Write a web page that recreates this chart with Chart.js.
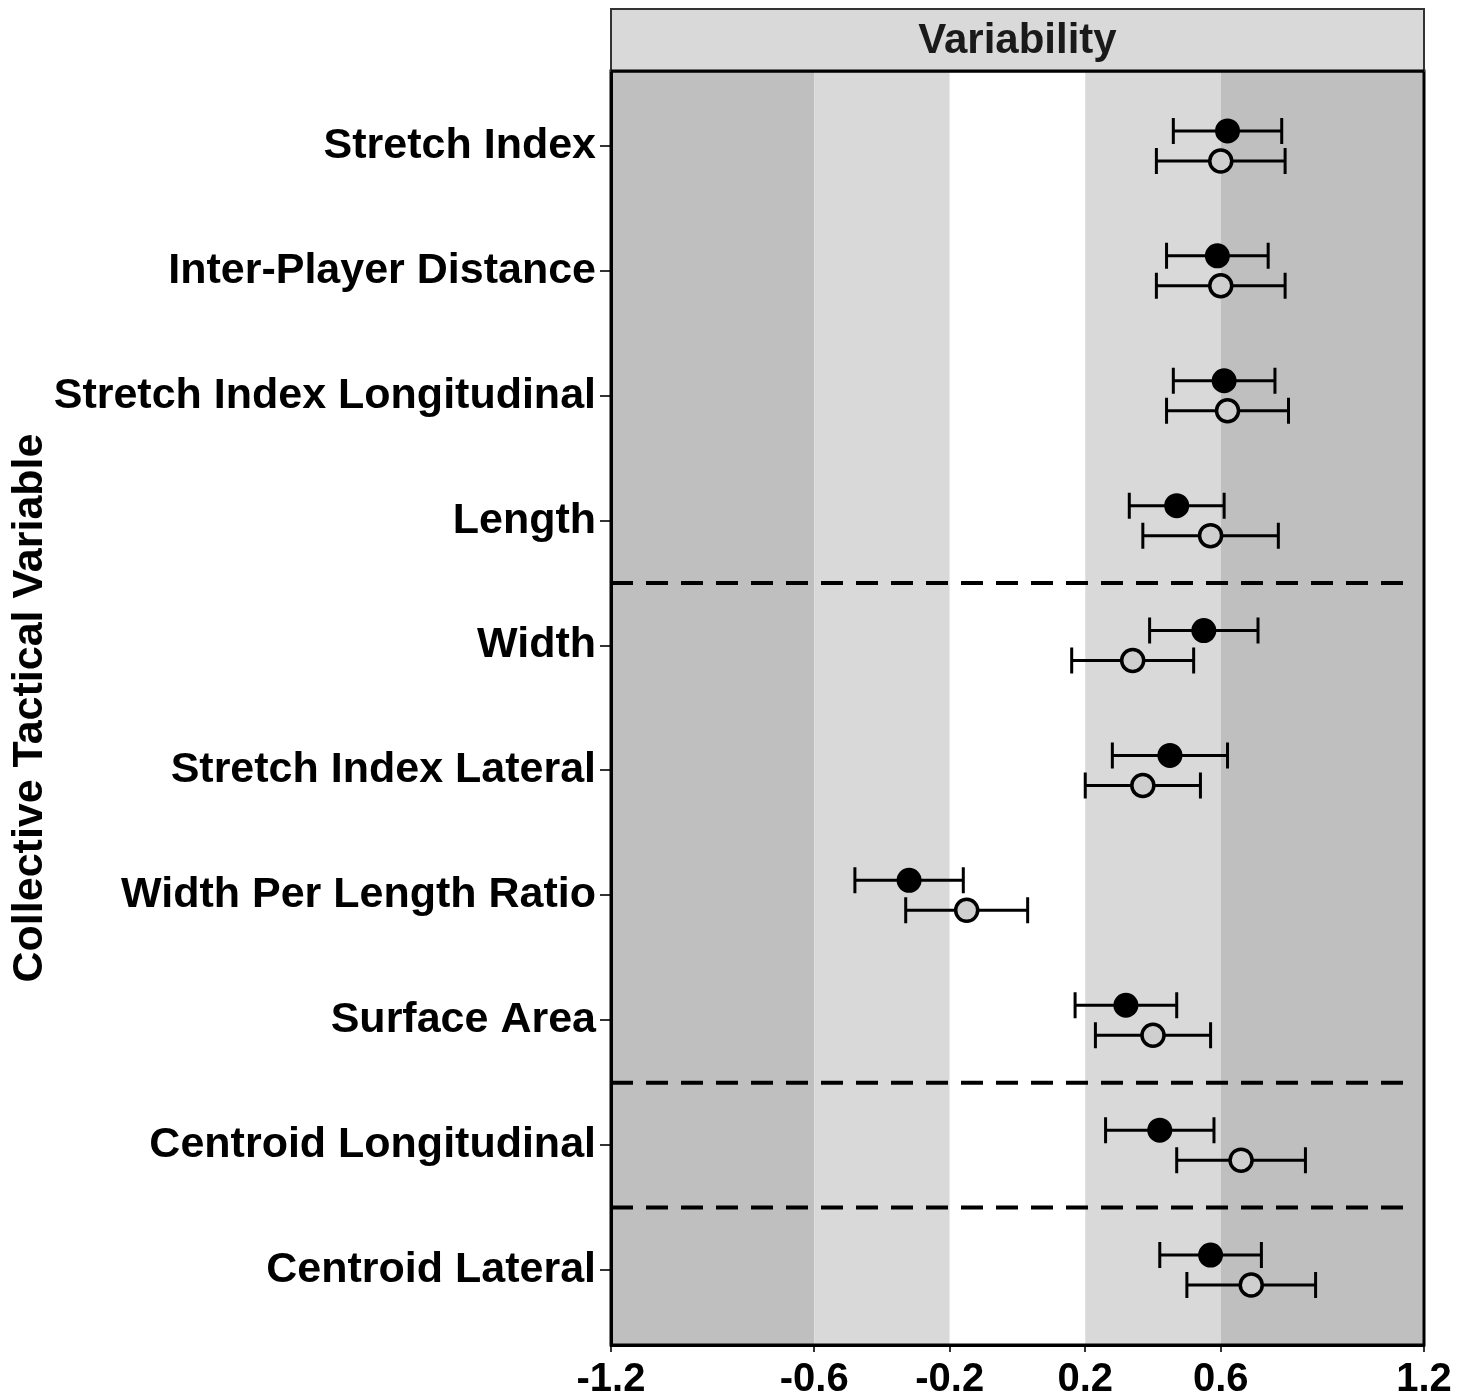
<!DOCTYPE html>
<html>
<head>
<meta charset="utf-8">
<script src="https://cdn.jsdelivr.net/npm/chart.js"></script>
<style>
  html, body { margin: 0; padding: 0; background: #fff; }
  #wrap { width: 1471px; height: 1399px; }
</style>
</head>
<body>
<div id="wrap"><canvas id="chart" width="1471" height="1399"></canvas></div>
<script>
// categorias e valores
const categories = [
  'Stretch Index', 'Inter-Player Distance', 'Stretch Index Longitudinal', 'Length',
  'Width', 'Stretch Index Lateral', 'Width Per Length Ratio', 'Surface Area',
  'Centroid Longitudinal', 'Centroid Lateral'
];
const blackMean = [0.62, 0.59, 0.61, 0.47, 0.55, 0.45, -0.32, 0.32, 0.42, 0.57];
const blackLow  = [0.46, 0.44, 0.46, 0.33, 0.39, 0.28, -0.48, 0.17, 0.26, 0.42];
const blackHigh = [0.78, 0.74, 0.76, 0.61, 0.71, 0.62, -0.16, 0.47, 0.58, 0.72];
const greyMean  = [0.60, 0.60, 0.62, 0.57, 0.34, 0.37, -0.15, 0.40, 0.66, 0.69];
const greyLow   = [0.41, 0.41, 0.44, 0.37, 0.16, 0.20, -0.33, 0.23, 0.47, 0.50];
const greyHigh  = [0.79, 0.79, 0.80, 0.77, 0.52, 0.54, 0.03, 0.57, 0.85, 0.88];
const xTicks = [-1.2, -0.6, -0.2, 0.2, 0.6, 1.2];
const bands = [
  { from: -1.2, to: -0.6, color: '#bfbfbf' },
  { from: -0.6, to: -0.2, color: '#d9d9d9' },
  { from: -0.2, to: 0.2, color: '#ffffff' },
  { from: 0.2, to: 0.6, color: '#d9d9d9' },
  { from: 0.6, to: 1.2, color: '#bfbfbf' }
];
const dashedAt = [4.5, 8.5, 9.5];
const panelTitle = 'Variability';

const FONT = '"Liberation Sans", Arial, sans-serif';
const OFFSET = 0.12;

const blackPoints = blackMean.map((v, i) => ({ x: v, y: i + 1 - OFFSET }));
const greyPoints = greyMean.map((v, i) => ({ x: v, y: i + 1 + OFFSET }));

// faixas de fundo, linhas tracejadas e barras de erro
const decorPlugin = {
  id: 'decor',
  beforeDraw(chart) {
    const { ctx, chartArea: a, scales: { x } } = chart;
    ctx.save();
    bands.forEach(b => {
      const x0 = x.getPixelForValue(b.from);
      const x1 = x.getPixelForValue(b.to);
      ctx.fillStyle = b.color;
      ctx.fillRect(x0, a.top, x1 - x0, a.bottom - a.top);
    });
    ctx.restore();
  },
  beforeDatasetsDraw(chart) {
    const { ctx, chartArea: a, scales: { x, y } } = chart;
    ctx.save();
    ctx.strokeStyle = '#000';
    ctx.lineWidth = 4;
    ctx.setLineDash([22, 13]);
    dashedAt.forEach(v => {
      const py = y.getPixelForValue(v);
      ctx.beginPath();
      ctx.moveTo(a.left, py);
      ctx.lineTo(a.right - 14, py);
      ctx.stroke();
    });
    ctx.setLineDash([]);
    ctx.lineWidth = 3;
    const cap = 13;
    const drawBar = (lo, hi, yv) => {
      const x0 = x.getPixelForValue(lo);
      const x1 = x.getPixelForValue(hi);
      const py = y.getPixelForValue(yv);
      ctx.beginPath();
      ctx.moveTo(x0, py); ctx.lineTo(x1, py);
      ctx.moveTo(x0, py - cap); ctx.lineTo(x0, py + cap);
      ctx.moveTo(x1, py - cap); ctx.lineTo(x1, py + cap);
      ctx.stroke();
    };
    categories.forEach((c, i) => {
      drawBar(blackLow[i], blackHigh[i], i + 1 - OFFSET);
      drawBar(greyLow[i], greyHigh[i], i + 1 + OFFSET);
    });
    ctx.restore();
  },
  afterDraw(chart) {
    const { ctx, chartArea: a } = chart;
    ctx.save();
    // borda do painel
    ctx.strokeStyle = '#000';
    ctx.lineWidth = 3;
    ctx.strokeRect(a.left, a.top, a.right - a.left, a.bottom - a.top);
    // faixa do titulo
    ctx.fillStyle = '#d9d9d9';
    ctx.fillRect(a.left, 9, a.right - a.left, a.top - 9);
    ctx.strokeStyle = '#333';
    ctx.lineWidth = 2;
    ctx.strokeRect(a.left, 9, a.right - a.left, a.top - 9);
    ctx.strokeStyle = '#000';
    ctx.lineWidth = 3;
    ctx.beginPath();
    ctx.moveTo(a.left, a.top); ctx.lineTo(a.right, a.top);
    ctx.stroke();
    ctx.fillStyle = '#1a1a1a';
    ctx.font = 'bold 42px ' + FONT;
    ctx.textAlign = 'center';
    ctx.textBaseline = 'middle';
    ctx.fillText(panelTitle, (a.left + a.right) / 2, (9 + a.top) / 2 + 1);
    ctx.restore();
  }
};

new Chart(document.getElementById('chart'), {
  type: 'scatter',
  data: {
    datasets: [
      {
        label: 'black',
        data: blackPoints,
        pointRadius: 11,
        pointBackgroundColor: '#000',
        pointBorderColor: '#000',
        pointBorderWidth: 3
      },
      {
        label: 'grey',
        data: greyPoints,
        pointRadius: 11,
        pointBackgroundColor: '#cfcfcf',
        pointBorderColor: '#000',
        pointBorderWidth: 3.5
      }
    ]
  },
  options: {
    responsive: false,
    animation: false,
    layout: { padding: { top: 71, right: 47, left: 0, bottom: 0 } },
    plugins: {
      legend: { display: false },
      tooltip: { enabled: false }
    },
    scales: {
      x: {
        type: 'linear',
        min: -1.2,
        max: 1.2,
        afterBuildTicks: scale => { scale.ticks = xTicks.map(v => ({ value: v })); },
        afterFit: scale => { scale.height = 54; },
        grid: { drawOnChartArea: false, drawTicks: true, tickLength: 7, color: '#333', lineWidth: 2 },
        border: { display: true, color: '#000', width: 3 },
        ticks: {
          color: '#000',
          font: { family: FONT, size: 40, weight: 'bold' },
          padding: 4,
          maxRotation: 0,
          autoSkip: false,
          callback: v => String(v)
        }
      },
      y: {
        type: 'linear',
        reverse: true,
        min: 0.4,
        max: 10.6,
        afterBuildTicks: scale => { scale.ticks = categories.map((c, i) => ({ value: i + 1 })); },
        afterFit: scale => { scale.width = 611; },
        grid: { drawOnChartArea: false, drawTicks: true, tickLength: 11, color: '#333', lineWidth: 2 },
        border: { display: true, color: '#000', width: 3 },
        ticks: {
          color: '#000',
          font: { family: FONT, size: 43, weight: 'bold' },
          padding: 4,
          autoSkip: false,
          callback: (v) => categories[Math.round(v) - 1]
        },
        title: {
          display: true,
          text: 'Collective Tactical Variable',
          color: '#000',
          font: { family: FONT, size: 43, weight: 'bold' },
          padding: { top: 4, bottom: 0 }
        }
      }
    }
  },
  plugins: [decorPlugin]
});
</script>
</body>
</html>
